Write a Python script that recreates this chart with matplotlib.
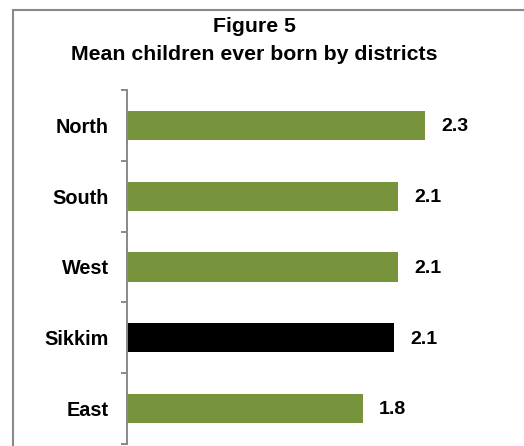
import matplotlib.pyplot as plt
import matplotlib.patches as patches
import numpy as np

districts = ["North", "South", "West", "Sikkim", "East"]
mean_ceb = [2.3, 2.09, 2.09, 2.06, 1.82]
bar_colors = ["#77933C", "#77933C", "#77933C", "#000000", "#77933C"]

plt.rcParams['font.family'] = ['Liberation Sans', 'DejaVu Sans']

W, H = 524, 446
fig = plt.figure(figsize=(W / 100, H / 100), dpi=100)

# outer frame (runs off the right and bottom edges)
fig.patches.append(patches.Rectangle((13 / W, -0.1), 1.0, (H - 10) / H + 0.1,
                                     transform=fig.transFigure, fill=False,
                                     edgecolor="#898989", linewidth=1.5))

ax = fig.add_axes([127 / W, 2 / H, (490 - 127) / W, (444 - 90) / H])
y = np.arange(len(districts))
ax.barh(y, mean_ceb, height=0.41, color=bar_colors)

for i, v in enumerate(mean_ceb):
    ax.annotate(f"{v:.1f}", (v, i), xytext=(11.5, -1), textcoords="offset points",
                ha="left", va="center", fontsize=14, fontweight="bold")

ax.set_xlim(0, 2.8)
ax.set_ylim(len(districts) - 0.5, -0.5)
ax.set_yticks(y)
ax.set_yticklabels(districts, fontsize=14.3, fontweight="bold")
ax.set_yticks(np.arange(len(districts) + 1) - 0.5, minor=True)
ax.tick_params(axis="y", which="major", length=0, pad=13)
ax.tick_params(axis="y", which="minor", length=4.5, width=1.4, color="#898989")
ax.set_xticks([])
for s in ["top", "right", "bottom"]:
    ax.spines[s].set_visible(False)
ax.spines["left"].set_color("#898989")
ax.spines["left"].set_linewidth(1.4)

fig.text(254 / W, 1 - 32.5 / H, "Figure 5", ha="center", va="baseline",
         fontsize=15.3, fontweight="bold")
fig.text(254 / W, 1 - 60 / H, "Mean children ever born by districts", ha="center",
         va="baseline", fontsize=15.3, fontweight="bold")

fig.savefig("out.png", dpi=100)
